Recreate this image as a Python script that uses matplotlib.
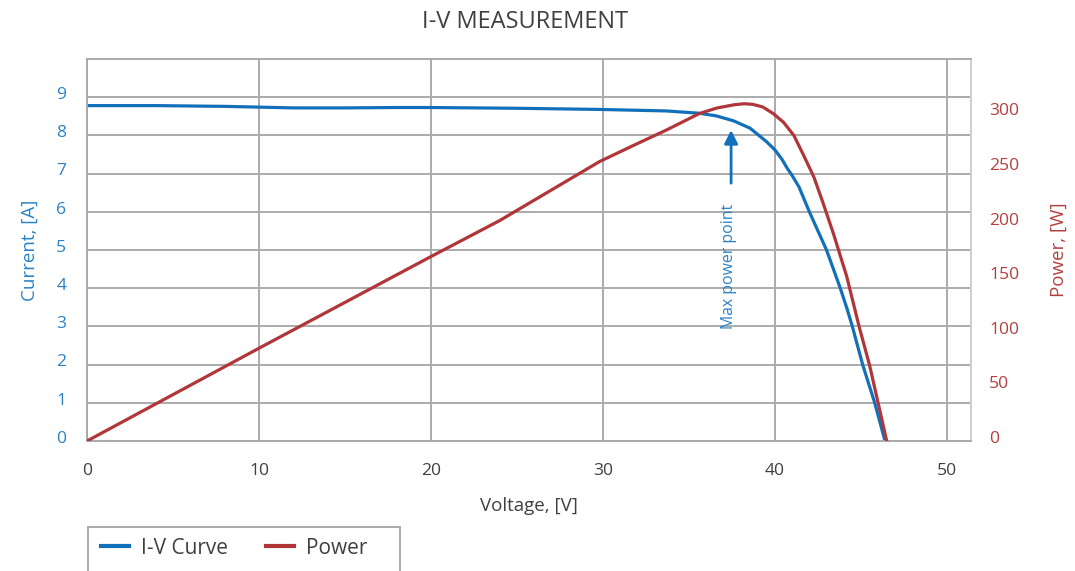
import matplotlib
matplotlib.use("Agg")
import matplotlib.pyplot as plt
from matplotlib.lines import Line2D
from matplotlib.patches import Rectangle
from matplotlib.transforms import ScaledTranslation

# I-V curve data
iv_voltage = [0, 4, 8, 10, 12, 15, 18, 20, 25, 29.8, 33.7, 35.6, 36.6, 37.6, 38.55,
              39.5, 40.0, 40.4, 40.7, 41.0, 41.4, 42.0, 42.5, 43.0, 43.4, 43.8,
              44.2, 44.5, 45.1, 45.8, 46.4]
iv_current = [8.78, 8.78, 8.76, 8.74, 8.72, 8.72, 8.73, 8.73, 8.71, 8.68, 8.64, 8.58, 8.51, 8.38, 8.19,
              7.84, 7.62, 7.38, 7.15, 6.95, 6.65, 6.00, 5.50, 5.00, 4.50, 4.00,
              3.45, 3.00, 2.00, 1.00, 0.00]

# power curve
p_voltage = [0, 10, 20, 24, 29.8, 31.8, 33.7, 35.6, 36.6, 37.6, 38.2, 38.7, 39.3,
             39.9, 40.5, 41.1, 41.66, 42.26, 42.8, 43.4, 44.17, 44.9, 45.5, 46.0, 46.5]
p_power = [0, 85, 169, 202, 256, 271, 285, 300, 305, 308, 309, 308.5, 306,
           300, 292, 280, 262, 242, 218, 190, 151, 104.5, 69.6, 34.8, 0]

x_ticks = [0, 10, 20, 30, 40, 50]
i_ticks = [0, 1, 2, 3, 4, 5, 6, 7, 8, 9]
p_ticks = [0, 50, 100, 150, 200, 250, 300]

mpp_voltage = 37.45
mpp_tip = 8.14
mpp_tail = 6.75

BLUE = "#1170b9"
BLUE_TXT = "#2a82c6"
RED = "#b0363a"
RED_TXT = "#b2403f"
GRID = "#ababab"
TXT = "#404040"
FONT = ["Open Sans", "DejaVu Sans"]

plt.rcParams["font.family"] = FONT

fig = plt.figure(figsize=(10.75, 5.71), dpi=100)
ax = fig.add_axes([87 / 1075, 1 - 441 / 571, (971 - 87) / 1075, (441 - 59) / 571])
ax2 = ax.twinx()

ax.plot(iv_voltage, iv_current, color=BLUE, lw=2.3, zorder=3, solid_joinstyle="round")
ax2.plot(p_voltage, p_power, color=RED, lw=2.3, zorder=3, solid_joinstyle="round")

ax.set_xlim(0, 51.4)
ax.set_ylim(0, 10)
ax2.set_ylim(0, 350)

ax.set_xticks(x_ticks)
ax.set_yticks(i_ticks)
ax2.set_yticks(p_ticks)
ax.grid(True, color=GRID, lw=1.4)
ax.set_axisbelow(True)

ax.tick_params(axis="x", length=0, pad=16, labelsize=12.6, labelcolor=TXT)
ax.tick_params(axis="y", length=0, pad=15, labelsize=12.6, labelcolor=BLUE_TXT)
ax2.tick_params(axis="y", length=0, pad=13, labelsize=12.6, labelcolor=RED_TXT)

# tick labels in the reference sit a little above their grid lines
lift = ScaledTranslation(0, 3 / 72, fig.dpi_scale_trans)
for tick in ax.yaxis.get_major_ticks() + ax2.yaxis.get_major_ticks():
    tick.label1.set_transform(tick.label1.get_transform() + lift)
    tick.label2.set_transform(tick.label2.get_transform() + lift)

for a in (ax, ax2):
    for side in ("left", "bottom", "top"):
        a.spines[side].set_color(GRID)
        a.spines[side].set_linewidth(1.4)
    a.spines["right"].set_color("#cfcfcf")
    a.spines["right"].set_linewidth(1.4)

ax.set_xlabel("Voltage, [V]", fontsize=13.5, color=TXT, labelpad=13)
ax.set_ylabel("Current, [A]", fontsize=13.5, color=BLUE_TXT)
ax2.set_ylabel("Power, [W]", fontsize=13.5, color=RED_TXT, labelpad=22)
ax.yaxis.set_label_coords(-(87 - 39) / 884, 0.5)
fig.text(525 / 1075, 1 - 22 / 571, "I-V MEASUREMENT", ha="center", va="center",
         fontsize=17, color=TXT)

# max power point marker
ax.annotate("", xy=(mpp_voltage, mpp_tip), xytext=(mpp_voltage, mpp_tail),
            arrowprops=dict(arrowstyle="-|>", color=BLUE, lw=2, mutation_scale=20,
                            shrinkA=0, shrinkB=0), zorder=4)
ax.text(mpp_voltage - 0.1, 4.58, "Max power point", rotation=90, ha="center", va="center",
        fontsize=11.4, color=BLUE_TXT)

# legend box runs off the bottom of the figure
fig.patches.append(Rectangle((88 / 1075, -0.02), (400 - 88) / 1075, 0.02 + 1 - 527 / 571,
                             transform=fig.transFigure, fill=False, edgecolor=GRID, lw=1.4))
handles = [Line2D([], [], color=BLUE, lw=3), Line2D([], [], color=RED, lw=3)]
fig.legend(handles, ["I-V Curve", "Power"], loc="center left",
           bbox_to_anchor=(101 / 1075, 1 - 548 / 571), frameon=False, ncol=2,
           fontsize=15, handlelength=1.35, handletextpad=0.55, columnspacing=1.85,
           borderpad=0, borderaxespad=0, labelcolor=TXT)

fig.savefig("out.png", dpi=100)
